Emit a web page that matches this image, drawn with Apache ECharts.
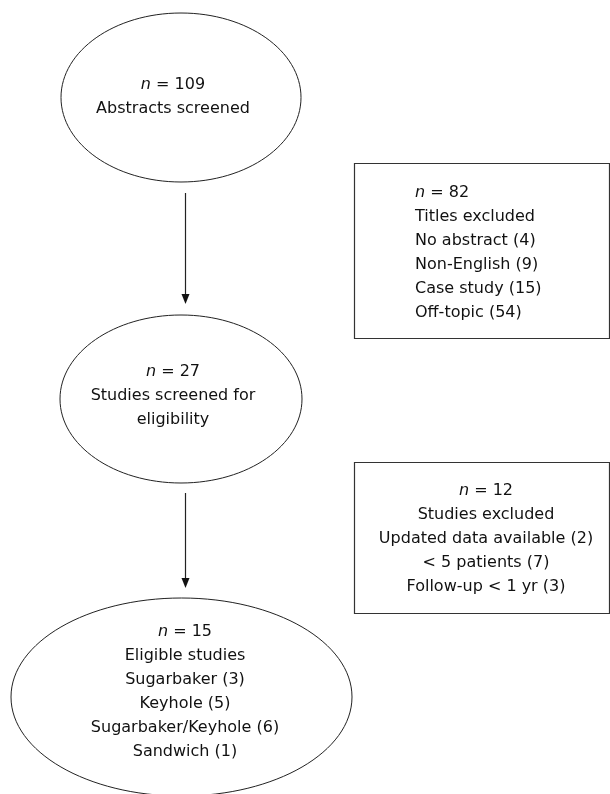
<!DOCTYPE html>
<html>
<head>
<meta charset="utf-8">
<script src="https://cdn.jsdelivr.net/npm/echarts@6/dist/echarts.min.js"></script>
<style>html,body{margin:0;padding:0;background:#fff;}#main{width:610px;height:794px;}</style>
</head>
<body>
<div id="main"></div>
<script>
// Flowchart content
var nodeCounts = [109, 82, 27, 12, 15];
var node1Lines = ['Abstracts screened'];
var box1Lines = ['Titles excluded', 'No abstract (4)', 'Non-English (9)', 'Case study (15)', 'Off-topic (54)'];
var node2Lines = ['Studies screened for', 'eligibility'];
var box2Lines = ['Studies excluded', 'Updated data available (2)', '< 5 patients (7)', 'Follow-up < 1 yr (3)'];
var node3Lines = ['Eligible studies', 'Sugarbaker (3)', 'Keyhole (5)', 'Sugarbaker/Keyhole (6)', 'Sandwich (1)'];

var FONT = '"DejaVu Sans", Verdana, sans-serif';
var FS = 16, LH = 24;

function label(count, lines) {
  return ['{i|n} = ' + count].concat(lines).join('\n');
}
function textEl(x, y, count, lines, align) {
  return {
    type: 'text', x: x, y: y, z: 10,
    style: {
      text: label(count, lines),
      fill: '#111', font: FS + 'px ' + FONT, lineHeight: LH,
      align: align || 'center', verticalAlign: 'middle',
      rich: { i: { fontStyle: 'italic', fontFamily: FONT, fontSize: FS, lineHeight: LH, fill: '#111' } }
    }
  };
}
function ellipse(cx, cy, rx, ry) {
  return { type: 'ellipse', shape: { cx: cx, cy: cy, rx: rx, ry: ry },
    style: { fill: '#fff', stroke: '#222', lineWidth: 1 } };
}
function rect(x1, y1, x2, y2) {
  return { type: 'rect', shape: { x: x1 + 0.5, y: y1 + 0.5, width: x2 - x1, height: y2 - y1 },
    style: { fill: '#fff', stroke: '#333', lineWidth: 1.2 } };
}
function arrow(x, y1, y2) {
  return [
    { type: 'line', shape: { x1: x + 0.5, y1: y1, x2: x + 0.5, y2: y2 - 6 }, style: { stroke: '#222', lineWidth: 1.2 } },
    { type: 'polygon', shape: { points: [[x - 3.5, y2 - 10], [x + 4.5, y2 - 10], [x + 0.5, y2]] }, style: { fill: '#111' } }
  ];
}

var els = [];
els.push(ellipse(181, 97.5, 120, 84.5));
els.push(ellipse(181, 399, 121, 84));
els.push(ellipse(181.5, 697, 170.5, 99));
els.push(rect(354, 163, 609, 338));
els.push(rect(354, 462, 609, 613));
els = els.concat(arrow(185, 193, 304));
els = els.concat(arrow(185, 493, 588));
els.push(textEl(173, 97, nodeCounts[0], node1Lines));
els.push(textEl(415, 253, nodeCounts[1], box1Lines, 'left'));
els.push(textEl(173, 396, nodeCounts[2], node2Lines));
els.push(textEl(486, 539, nodeCounts[3], box2Lines));
els.push(textEl(185, 692, nodeCounts[4], node3Lines));

var chart = echarts.init(document.getElementById('main'), null, { renderer: 'canvas' });
chart.setOption({ backgroundColor: '#fff', animation: false, graphic: { elements: els } });
</script>
</body>
</html>
